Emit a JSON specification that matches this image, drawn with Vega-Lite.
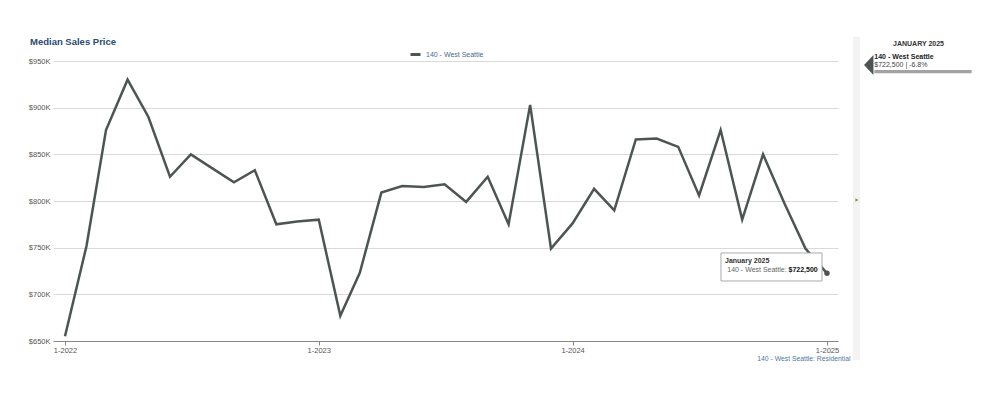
{
  "$schema": "https://vega.github.io/schema/vega-lite/v6.json",
  "autosize": {"type": "none"},
  "padding": {"left": 53, "top": 61, "right": 162, "bottom": 58},
  "width": 785,
  "height": 280,
  "background": "white",
  "config": {"font": "Liberation Sans", "view": {"stroke": null}},
  "layer": [
    {
      "data": {"values": [
        {"date": "2022-01-01T00:00:00", "price": 655000, "series": "140 - West Seattle"},
        {"date": "2022-02-01T00:00:00", "price": 752000, "series": "140 - West Seattle"},
        {"date": "2022-03-01T00:00:00", "price": 876000, "series": "140 - West Seattle"},
        {"date": "2022-04-01T00:00:00", "price": 930000, "series": "140 - West Seattle"},
        {"date": "2022-05-01T00:00:00", "price": 890000, "series": "140 - West Seattle"},
        {"date": "2022-06-01T00:00:00", "price": 826000, "series": "140 - West Seattle"},
        {"date": "2022-07-01T00:00:00", "price": 850000, "series": "140 - West Seattle"},
        {"date": "2022-08-01T00:00:00", "price": 835000, "series": "140 - West Seattle"},
        {"date": "2022-09-01T00:00:00", "price": 820000, "series": "140 - West Seattle"},
        {"date": "2022-10-01T00:00:00", "price": 833000, "series": "140 - West Seattle"},
        {"date": "2022-11-01T00:00:00", "price": 775000, "series": "140 - West Seattle"},
        {"date": "2022-12-01T00:00:00", "price": 778000, "series": "140 - West Seattle"},
        {"date": "2023-01-01T00:00:00", "price": 780000, "series": "140 - West Seattle"},
        {"date": "2023-02-01T00:00:00", "price": 677000, "series": "140 - West Seattle"},
        {"date": "2023-03-01T00:00:00", "price": 723000, "series": "140 - West Seattle"},
        {"date": "2023-04-01T00:00:00", "price": 809000, "series": "140 - West Seattle"},
        {"date": "2023-05-01T00:00:00", "price": 816000, "series": "140 - West Seattle"},
        {"date": "2023-06-01T00:00:00", "price": 815000, "series": "140 - West Seattle"},
        {"date": "2023-07-01T00:00:00", "price": 818000, "series": "140 - West Seattle"},
        {"date": "2023-08-01T00:00:00", "price": 799000, "series": "140 - West Seattle"},
        {"date": "2023-09-01T00:00:00", "price": 826000, "series": "140 - West Seattle"},
        {"date": "2023-10-01T00:00:00", "price": 775000, "series": "140 - West Seattle"},
        {"date": "2023-11-01T00:00:00", "price": 903000, "series": "140 - West Seattle"},
        {"date": "2023-12-01T00:00:00", "price": 749000, "series": "140 - West Seattle"},
        {"date": "2024-01-01T00:00:00", "price": 776000, "series": "140 - West Seattle"},
        {"date": "2024-02-01T00:00:00", "price": 813000, "series": "140 - West Seattle"},
        {"date": "2024-03-01T00:00:00", "price": 790000, "series": "140 - West Seattle"},
        {"date": "2024-04-01T00:00:00", "price": 866000, "series": "140 - West Seattle"},
        {"date": "2024-05-01T00:00:00", "price": 867000, "series": "140 - West Seattle"},
        {"date": "2024-06-01T00:00:00", "price": 858000, "series": "140 - West Seattle"},
        {"date": "2024-07-01T00:00:00", "price": 806000, "series": "140 - West Seattle"},
        {"date": "2024-08-01T00:00:00", "price": 876000, "series": "140 - West Seattle"},
        {"date": "2024-09-01T00:00:00", "price": 780000, "series": "140 - West Seattle"},
        {"date": "2024-10-01T00:00:00", "price": 850000, "series": "140 - West Seattle"},
        {"date": "2024-11-01T00:00:00", "price": 797000, "series": "140 - West Seattle"},
        {"date": "2024-12-01T00:00:00", "price": 749000, "series": "140 - West Seattle"},
        {"date": "2025-01-01T00:00:00", "price": 722500, "series": "140 - West Seattle"}
      ]},
      "mark": {"type": "line", "strokeWidth": 2.5, "clip": false},
      "encoding": {
        "x": {
          "field": "date", "type": "temporal",
          "scale": {"domain": [{"year": 2021, "month": 12, "date": 14, "hours": 18}, {"year": 2025, "month": 1, "date": 16, "hours": 19}], "nice": false},
          "axis": {
            "values": [{"year": 2022, "month": 1, "date": 1}, {"year": 2023, "month": 1, "date": 1}, {"year": 2024, "month": 1, "date": 1}, {"year": 2025, "month": 1, "date": 1}],
            "format": "%-m-%Y", "labelFontSize": 7.5, "labelColor": "#555", "tickColor": "#888", "tickSize": 4,
            "domainColor": "#888", "grid": false, "labelPadding": 1,
            "title": "140 - West Seattle: Residential", "titleX": 797, "titleY": 17, "titleAlign": "right",
            "titleBaseline": "middle", "titleFontSize": 6.8, "titleFontWeight": "normal", "titleColor": "#4f77aa"
          }
        },
        "y": {
          "field": "price", "type": "quantitative",
          "scale": {"domain": [650000, 950000], "nice": false, "zero": false},
          "axis": {
            "values": [650000, 700000, 750000, 800000, 850000, 900000, 950000],
            "labelExpr": "'$' + (datum.value/1000) + 'K'",
            "grid": true, "gridColor": "#d9d9d9", "domain": false, "ticks": false,
            "labelPadding": 3, "labelFontSize": 7.5, "labelColor": "#555", "title": null
          }
        },
        "color": {
          "field": "series", "type": "nominal",
          "scale": {"range": ["#4d5553"]},
          "legend": {"orient": "none", "legendX": 356, "legendY": -13, "title": null, "symbolType": "stroke",
            "symbolStrokeWidth": 3, "symbolSize": 100, "labelFontSize": 7, "labelColor": "#4a6a94", "labelOffset": 4}
        }
      }
    },
    {
      "data": {"values": [{"label": "Median Sales Price"}]},
      "mark": {"type": "text", "align": "left", "baseline": "middle", "fontSize": 9.5, "fontWeight": "bold", "color": "#2b4a6f", "clip": false},
      "encoding": {
        "x": {"datum": {"year": 2021, "month": 11, "date": 11, "hours": 16}, "type": "temporal"},
        "y": {"datum": 970357, "type": "quantitative"},
        "text": {"field": "label"}
      }
    },
    {
      "data": {"values": [{"label": "x"}]},
      "mark": {"type": "point", "filled": true, "size": 30, "color": "#4d5553", "opacity": 1, "clip": false},
      "encoding": {
        "x": {"datum": {"year": 2025, "month": 1, "date": 1}, "type": "temporal"},
        "y": {"datum": 722500, "type": "quantitative"}
      }
    },
    {
      "data": {"values": [{"label": "box"}]},
      "mark": {"type": "rect", "fill": "white", "stroke": "#aaaaaa", "strokeWidth": 1, "clip": false},
      "encoding": {
        "x": {"datum": {"year": 2024, "month": 8, "date": 1, "hours": 12}, "type": "temporal"},
        "x2": {"datum": {"year": 2024, "month": 12, "date": 24, "hours": 19}},
        "y": {"datum": 744286, "type": "quantitative"},
        "y2": {"datum": 714286}
      }
    },
    {
      "data": {"values": [{"label": "January 2025"}]},
      "mark": {"type": "text", "align": "left", "baseline": "middle", "fontSize": 7, "fontWeight": "bold", "color": "#333", "clip": false},
      "encoding": {
        "x": {"datum": {"year": 2024, "month": 8, "date": 7, "hours": 7}, "type": "temporal"},
        "y": {"datum": 735714, "type": "quantitative"},
        "text": {"field": "label"}
      }
    },
    {
      "data": {"values": [{"label": "140 - West Seattle:"}]},
      "mark": {"type": "text", "align": "left", "baseline": "middle", "fontSize": 7, "color": "#666", "clip": false},
      "encoding": {
        "x": {"datum": {"year": 2024, "month": 8, "date": 10, "hours": 12}, "type": "temporal"},
        "y": {"datum": 726071, "type": "quantitative"},
        "text": {"field": "label"}
      }
    },
    {
      "data": {"values": [{"label": "$722,500"}]},
      "mark": {"type": "text", "align": "left", "baseline": "middle", "fontSize": 7, "fontWeight": "bold", "color": "#111", "clip": false},
      "encoding": {
        "x": {"datum": {"year": 2024, "month": 11, "date": 6, "hours": 14}, "type": "temporal"},
        "y": {"datum": 726071, "type": "quantitative"},
        "text": {"field": "label"}
      }
    },
    {
      "data": {"values": [{"label": "strip"}]},
      "mark": {"type": "rect", "fill": "#f3f3f3", "clip": false},
      "encoding": {
        "x": {"datum": {"year": 2025, "month": 2, "date": 7, "hours": 10}, "type": "temporal"},
        "x2": {"datum": {"year": 2025, "month": 2, "date": 17, "hours": 10}},
        "y": {"datum": 976027, "type": "quantitative"},
        "y2": {"datum": 629643}
      }
    },
    {
      "data": {"values": [{"label": "arrow"}]},
      "mark": {"type": "point", "filled": true, "shape": "triangle-right", "size": 12, "color": "#8a8a40", "opacity": 1, "clip": false},
      "encoding": {
        "x": {"datum": {"year": 2025, "month": 2, "date": 13}, "type": "temporal"},
        "y": {"datum": 801071, "type": "quantitative"}
      }
    },
    {
      "data": {"values": [{"label": "JANUARY 2025"}]},
      "mark": {"type": "text", "align": "center", "baseline": "middle", "fontSize": 7, "fontWeight": "bold", "color": "#333", "clip": false},
      "encoding": {
        "x": {"datum": {"year": 2025, "month": 5, "date": 12, "hours": 14}, "type": "temporal"},
        "y": {"datum": 968214, "type": "quantitative"},
        "text": {"field": "label"}
      }
    },
    {
      "data": {"values": [{"label": "140 - West Seattle"}]},
      "mark": {"type": "text", "align": "left", "baseline": "middle", "fontSize": 7, "fontWeight": "bold", "color": "#222", "clip": false},
      "encoding": {
        "x": {"datum": {"year": 2025, "month": 3, "date": 10}, "type": "temporal"},
        "y": {"datum": 954815, "type": "quantitative"},
        "text": {"field": "label"}
      }
    },
    {
      "data": {"values": [{"label": "$722,500 | -6.8%"}]},
      "mark": {"type": "text", "align": "left", "baseline": "middle", "fontSize": 7, "color": "#444", "clip": false},
      "encoding": {
        "x": {"datum": {"year": 2025, "month": 3, "date": 10}, "type": "temporal"},
        "y": {"datum": 946243, "type": "quantitative"},
        "text": {"field": "label"}
      }
    },
    {
      "data": {"values": [{"label": "bar"}]},
      "mark": {"type": "rect", "fill": "#a3a3a3", "clip": false},
      "encoding": {
        "x": {"datum": {"year": 2025, "month": 3, "date": 10}, "type": "temporal"},
        "x2": {"datum": {"year": 2025, "month": 7, "date": 28}},
        "y": {"datum": 940357, "type": "quantitative"},
        "y2": {"datum": 936821}
      }
    },
    {
      "data": {"values": [{"label": "marker"}]},
      "mark": {"type": "point", "filled": true, "shape": "M0.47,-1L-0.47,0L0.47,1Z", "size": 400, "color": "#4d5553", "opacity": 1, "clip": false},
      "encoding": {
        "x": {"datum": {"year": 2025, "month": 3, "date": 2}, "type": "temporal"},
        "y": {"datum": 945714, "type": "quantitative"}
      }
    }
  ]
}
